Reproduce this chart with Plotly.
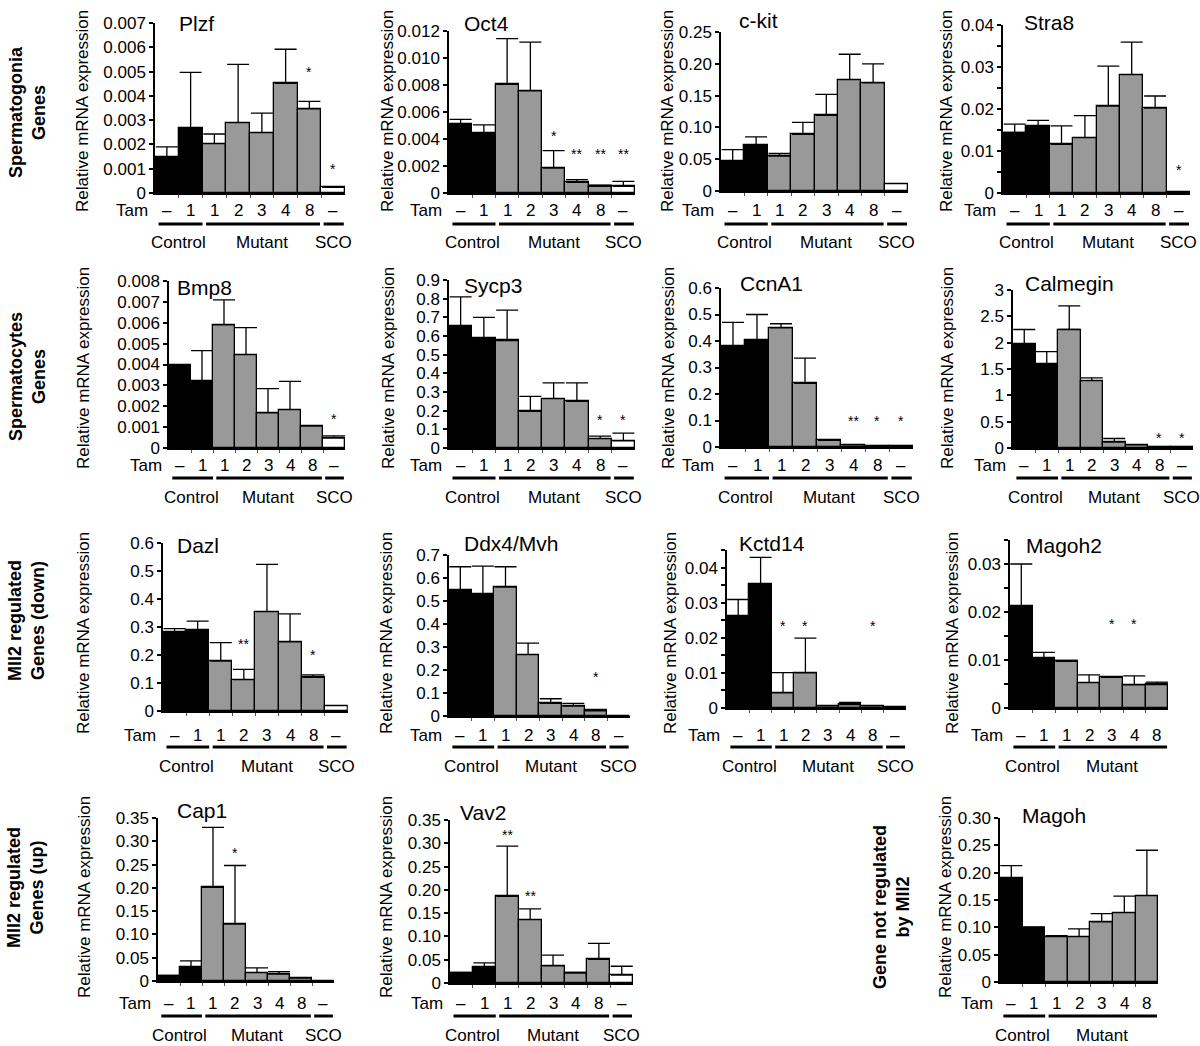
import plotly.graph_objects as go

W, H = 1200, 1046

# ---------------- data ----------------
tam_labels = ["–", "1", "1", "2", "3", "4", "8", "–"]
groups = ["Control", "Mutant", "SCO"]

plzf_mean = [0.0015, 0.00267, 0.00203, 0.0029, 0.00249, 0.00452, 0.00347, 0.00023]
plzf_sd = [0.0004, 0.0023, 0.0004, 0.0024, 0.0008, 0.0014, 0.0003, None]
oct4_mean = [0.0051, 0.00447, 0.00804, 0.00757, 0.00184, 0.00079, 0.00049, 0.00049]
oct4_sd = [0.00035, 0.00057, 0.0034, 0.0036, 0.0013, 0.0002, 0.0001, 0.00037]
ckit_mean = [0.047, 0.072, 0.055, 0.089, 0.119, 0.175, 0.170, 0.0115]
ckit_sd = [0.018, 0.013, 0.004, 0.019, 0.033, 0.040, 0.030, None]
stra8_mean = [0.0144, 0.0159, 0.0116, 0.0132, 0.0207, 0.0282, 0.0202, 0.0002]
stra8_sd = [0.002, 0.0014, 0.0044, 0.0052, 0.0095, 0.0077, 0.0029, None]
bmp8_mean = [0.00396, 0.0032, 0.0059, 0.00447, 0.00168, 0.00184, 0.00105, 0.00048]
bmp8_sd = [None, 0.00146, 0.0012, 0.0013, 0.00116, 0.00135, None, 0.0001]
sycp3_mean = [0.655, 0.59, 0.576, 0.197, 0.265, 0.25, 0.05, 0.038]
sycp3_sd = [0.155, 0.11, 0.163, 0.08, 0.084, 0.099, 0.014, 0.042]
ccna1_mean = [0.38, 0.405, 0.45, 0.24, 0.025, 0.008, 0.004, 0.004]
ccna1_sd = [0.09, 0.095, 0.015, 0.095, None, None, None, None]
calmegin_mean = [1.97, 1.6, 2.25, 1.28, 0.114, 0.06, 0.02, 0.015]
calmegin_sd = [0.28, 0.23, 0.45, 0.05, 0.066, None, None, None]
dazl_mean = [0.283, 0.289, 0.178, 0.112, 0.355, 0.247, 0.12, 0.019]
dazl_sd = [0.011, 0.032, 0.066, 0.037, 0.169, 0.1, 0.009, None]
ddx4_mean = [0.548, 0.531, 0.56, 0.267, 0.055, 0.043, 0.022, 0.002]
ddx4_sd = [0.101, 0.121, 0.089, 0.05, 0.02, 0.012, 0.007, None]
kctd14_mean = [0.0261, 0.0352, 0.0043, 0.0100, 0.0006, 0.0010, 0.0006, 0.0003]
kctd14_sd = [0.0048, 0.0077, 0.0058, 0.0099, None, 0.0006, None, None]
magoh2_mean = [0.0212, 0.0104, 0.0097, 0.0053, 0.0064, 0.0048, 0.0049]
magoh2_sd = [0.0088, 0.0012, 0.0002, 0.0016, 0.0001, 0.0019, 0.0005]
cap1_mean = [0.010, 0.029, 0.201, 0.122, 0.018, 0.015, 0.006, 0.001]
cap1_sd = [0.002, 0.014, 0.129, 0.126, 0.010, 0.005, None, None]
vav2_mean = [0.022, 0.034, 0.186, 0.136, 0.037, 0.021, 0.051, 0.017]
vav2_sd = [0.001, 0.009, 0.108, 0.023, 0.023, 0.002, 0.034, 0.019]
magoh_mean = [0.190, 0.098, 0.083, 0.083, 0.110, 0.127, 0.158]
magoh_sd = [0.023, 0.003, 0.002, 0.014, 0.015, 0.030, 0.083]

# significance marks: (bar index, y value, text)
plzf_sig = [(6, 0.0050, "*"), (7, 0.0010, "*")]
oct4_sig = [(4, 0.0042, "*"), (5, 0.0029, "**"), (6, 0.0029, "**"), (7, 0.0029, "**")]
ckit_sig = []
stra8_sig = [(7, 0.0054, "*")]
bmp8_sig = [(7, 0.00137, "*")]
sycp3_sig = [(6, 0.15, "*"), (7, 0.15, "*")]
ccna1_sig = [(5, 0.10, "**"), (6, 0.10, "*"), (7, 0.10, "*")]
calmegin_sig = [(6, 0.19, "*"), (7, 0.19, "*")]
dazl_sig = [(3, 0.238, "**"), (6, 0.20, "*")]
ddx4_sig = [(6, 0.17, "*")]
kctd14_sig = [(2, 0.0233, "*"), (3, 0.0233, "*"), (6, 0.0233, "*")]
magoh2_sig = [(4, 0.0175, "*"), (5, 0.0175, "*")]
cap1_sig = [(3, 0.274, "*")]
vav2_sig = [(2, 0.318, "**"), (3, 0.186, "**")]
magoh_sig = []

# y tick labels
t_plzf = ["0", "0.001", "0.002", "0.003", "0.004", "0.005", "0.006", "0.007"]
t_oct4 = ["0", "0.002", "0.004", "0.006", "0.008", "0.010", "0.012"]
t_ckit = ["0", "0.05", "0.10", "0.15", "0.20", "0.25"]
t_stra8 = ["0", "0.01", "0.02", "0.03", "0.04"]
t_bmp8 = ["0", "0.001", "0.002", "0.003", "0.004", "0.005", "0.006", "0.007", "0.008"]
t_sycp3 = ["0", "0.1", "0.2", "0.3", "0.4", "0.5", "0.6", "0.7", "0.8", "0.9"]
t_ccna1 = ["0", "0.1", "0.2", "0.3", "0.4", "0.5", "0.6"]
t_calmegin = ["0", "0.5", "1", "1.5", "2", "2.5", "3"]
t_dazl = ["0", "0.1", "0.2", "0.3", "0.4", "0.5", "0.6"]
t_ddx4 = ["0", "0.1", "0.2", "0.3", "0.4", "0.5", "0.6", "0.7"]
t_kctd14 = ["0", "0.01", "0.02", "0.03", "0.04"]
t_magoh2 = ["0", "0.01", "0.02", "0.03"]
t_cap1 = ["0", "0.05", "0.10", "0.15", "0.20", "0.25", "0.30", "0.35"]
t_vav2 = ["0", "0.05", "0.10", "0.15", "0.20", "0.25", "0.30", "0.35"]
t_magoh = ["0", "0.05", "0.10", "0.15", "0.20", "0.25", "0.30"]

# ---------------- layout spec (pixels) ----------------
# name, mean, sd, sig, ticktext, ymax, minor step, axis x, bar width, y zero, y top, title pos, ytitle x, row
panels = [
    ("Plzf", plzf_mean, plzf_sd, plzf_sig, t_plzf, 0.007, None, 155, 23.75, 193, 23, (177, 23), 83, 0),
    ("Oct4", oct4_mean, oct4_sd, oct4_sig, t_oct4, 0.012, None, 449, 23.25, 193, 31, (462, 23), 388, 0),
    ("c-kit", ckit_mean, ckit_sd, ckit_sig, t_ckit, 0.25, None, 721, 23.4, 191, 32, (737, 20), 668, 0),
    ("Stra8", stra8_mean, stra8_sd, stra8_sig, t_stra8, 0.04, 0.005, 1003, 23.4, 193, 25, (1022, 22), 947, 0),
    ("Bmp8", bmp8_mean, bmp8_sd, bmp8_sig, t_bmp8, 0.008, None, 169, 22, 448, 281, (175, 287), 83, 1),
    ("Sycp3", sycp3_mean, sycp3_sd, sycp3_sig, t_sycp3, 0.9, None, 449, 23.25, 448, 280, (462, 285), 388, 1),
    ("CcnA1", ccna1_mean, ccna1_sd, ccna1_sig, t_ccna1, 0.6, None, 721, 24, 447, 288, (738, 283), 668, 1),
    ("Calmegin", calmegin_mean, calmegin_sd, calmegin_sig, t_calmegin, 3, None, 1013, 22.5, 448, 290, (1023, 283), 947, 1),
    ("Dazl", dazl_mean, dazl_sd, dazl_sig, t_dazl, 0.6, None, 163, 23.1, 711, 543, (175, 545), 83, 2),
    ("Ddx4/Mvh", ddx4_mean, ddx4_sd, ddx4_sig, t_ddx4, 0.7, None, 449, 22.6, 716, 555, (462, 543), 386, 2),
    ("Kctd14", kctd14_mean, kctd14_sd, kctd14_sig, t_kctd14, 0.045, 0.005, 727, 22.4, 708, 550, (737, 543), 670, 2),
    ("Magoh2", magoh2_mean, magoh2_sd, magoh2_sig, t_magoh2, 0.035, 0.005, 1010, 22.6, 708, 540, (1024, 545), 952, 2),
    ("Cap1", cap1_mean, cap1_sd, cap1_sig, t_cap1, 0.35, None, 158, 22, 981, 818, (175, 810), 84, 3),
    ("Vav2", vav2_mean, vav2_sd, vav2_sig, t_vav2, 0.35, None, 450, 22.9, 983, 820, (458, 812), 386, 3),
    ("Magoh", magoh_mean, magoh_sd, magoh_sig, t_magoh, 0.30, None, 1000, 22.6, 982, 818, (1020, 815), 945, 3),
]

row_tam_y = [211, 465, 735, 1003]
row_line_y = [224, 478, 747, 1016]
row_group_y = [243, 497, 766, 1035]
row_ytitle_y = [111, 368, 633, 897]

FONT = "Liberation Sans, Arial, sans-serif"
BLACK = "#000000"
GRAY = "#999999"
WHITE = "#ffffff"


def px(x):
    return x / W


def py(y):
    return 1 - y / H


fig = go.Figure()
annotations = []
shapes = []
layout = {}

for i, (name, mean, sd, sig, ttext, ymax, minor_step, ax_x, bw, y0, y1, tpos, ytx, row) in enumerate(panels, start=1):
    n = len(mean)
    xs = list(range(n))
    colors = [BLACK, BLACK] + [GRAY] * 5 + ([WHITE] if n == 8 else [])
    xa = "x" if i == 1 else f"x{i}"
    ya = "y" if i == 1 else f"y{i}"
    fig.add_trace(go.Bar(
        x=xs, y=mean, xaxis=xa, yaxis=ya, width=1.0,
        marker=dict(color=colors, line=dict(color=BLACK, width=1.3)),
        error_y=dict(type="data", symmetric=False, array=sd, arrayminus=[0] * n,
                     color=BLACK, thickness=1.3, width=11),
        showlegend=False, hoverinfo="skip",
    ))
    step = ymax / (len(ttext) - 1) if minor_step is None else float(ttext[1])
    tvals = [k * step for k in range(len(ttext))]
    yaxis = dict(
        domain=[py(y0), py(y1)], anchor=xa, range=[0, ymax],
        tickmode="array", tickvals=tvals, ticktext=ttext,
        showline=True, linecolor=BLACK, linewidth=1.5, ticks="outside",
        ticklen=4, tickwidth=1.5, tickcolor=BLACK, showgrid=False, zeroline=False,
        tickfont=dict(family=FONT, size=17, color=BLACK), fixedrange=True,
        automargin=False,
    )
    if minor_step is not None:
        mv = []
        v = minor_step
        while v < ymax + 1e-12:
            mv.append(v)
            v += 2 * minor_step
        yaxis["minor"] = dict(tickmode="array", tickvals=mv, ticks="outside", ticklen=4,
                              tickwidth=1.5, tickcolor=BLACK, showgrid=False)
    xaxis = dict(
        domain=[px(ax_x), px(ax_x + n * bw)], anchor=ya, range=[-0.5, n - 0.5],
        showline=True, linecolor=BLACK, linewidth=1.5, ticks="outside", ticklen=3,
        tickwidth=1, tickcolor="#555555", tickmode="array",
        tickvals=[k + 0.5 for k in range(n - 1)], showticklabels=False,
        showgrid=False, zeroline=False, fixedrange=True, automargin=False,
    )
    layout["xaxis" if i == 1 else f"xaxis{i}"] = xaxis
    layout["yaxis" if i == 1 else f"yaxis{i}"] = yaxis

    # gene title
    annotations.append(dict(text=name, x=px(tpos[0]), y=py(tpos[1]), xref="paper", yref="paper",
                            xanchor="left", yanchor="middle", showarrow=False,
                            font=dict(family=FONT, size=21, color=BLACK)))
    # y axis title
    annotations.append(dict(text="Relative mRNA expression", x=px(ytx), y=py(row_ytitle_y[row]),
                            xref="paper", yref="paper", xanchor="center", yanchor="middle",
                            textangle=-90, showarrow=False,
                            font=dict(family=FONT, size=17, color=BLACK)))
    # Tam labels
    annotations.append(dict(text="Tam", x=px(ax_x - 5), y=py(row_tam_y[row]), xref="paper", yref="paper",
                            xanchor="right", yanchor="middle", showarrow=False,
                            font=dict(family=FONT, size=17, color=BLACK)))
    for k in range(n):
        annotations.append(dict(text=tam_labels[k], x=k, y=py(row_tam_y[row]), xref=xa, yref="paper",
                                xanchor="center", yanchor="middle", showarrow=False,
                                font=dict(family=FONT, size=17, color=BLACK)))
    # group lines + labels
    spans = [(-0.35, 1.5, 0.5), (1.65, 6.45, 4.0)]
    if n == 8:
        spans.append((6.6, 7.45, 7.0))
    for gname, (a, b, c) in zip(groups, spans):
        shapes.append(dict(type="line", xref=xa, yref="paper", x0=a, x1=b,
                           y0=py(row_line_y[row]), y1=py(row_line_y[row]),
                           line=dict(color=BLACK, width=3)))
        annotations.append(dict(text=gname, x=c, y=py(row_group_y[row]), xref=xa, yref="paper",
                                xanchor="center", yanchor="middle", showarrow=False,
                                font=dict(family=FONT, size=17, color=BLACK)))
    # significance stars
    for (k, yv, txt) in sig:
        annotations.append(dict(text=txt, x=k, y=yv, xref=xa, yref=ya, xanchor="center",
                                yanchor="middle", showarrow=False,
                                font=dict(family=FONT, size=14, color=BLACK)))

# row labels
row_labels = [
    ("Spermatogonia<br>Genes", 27, 112),
    ("Spermatocytes<br>Genes", 27, 377),
    ("Mll2 regulated<br>Genes (down)", 27, 621),
    ("Mll2 regulated<br>Genes (up)", 25, 888),
    ("Gene not regulated<br>by Mll2", 891, 907),
]
for txt, x, y in row_labels:
    annotations.append(dict(text=txt, x=px(x), y=py(y), xref="paper", yref="paper",
                            xanchor="center", yanchor="middle", textangle=-90, showarrow=False,
                            font=dict(family="Liberation Sans, Arial, sans-serif", size=18,
                                      color=BLACK, weight="bold")))

fig.update_layout(
    width=W, height=H, margin=dict(l=0, r=0, t=0, b=0, pad=0, autoexpand=False),
    paper_bgcolor="white", plot_bgcolor="rgba(0,0,0,0)",
    bargap=0, showlegend=False,
    annotations=annotations, shapes=shapes,
    font=dict(family=FONT, color=BLACK),
    **layout,
)

fig.write_html("out.html", config={"displayModeBar": False},
               post_script="document.body.style.margin='0';document.body.style.overflow='hidden';")
